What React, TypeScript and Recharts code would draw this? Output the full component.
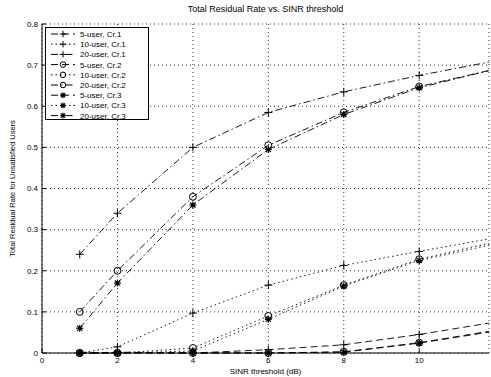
import { LineChart, Line, XAxis, YAxis, CartesianGrid, Label } from "recharts";

const thresholds = [1, 2, 4, 6, 8, 10, 12];

const user5Cr1 = [0, 0.002, 0, 0.008, 0.02, 0.045, 0.075];
const user10Cr1 = [0, 0.015, 0.097, 0.165, 0.213, 0.247, 0.28];
const user20Cr1 = [0.24, 0.34, 0.5, 0.585, 0.635, 0.675, 0.71];
const user5Cr2 = [0, 0, 0, 0, 0.003, 0.025, 0.055];
const user10Cr2 = [0, 0, 0.012, 0.09, 0.165, 0.228, 0.27];
const user20Cr2 = [0.1, 0.2, 0.38, 0.505, 0.585, 0.648, 0.69];
const user5Cr3 = [0, 0, 0, 0, 0.002, 0.024, 0.053];
const user10Cr3 = [0, 0, 0.005, 0.082, 0.163, 0.225, 0.265];
const user20Cr3 = [0.06, 0.17, 0.36, 0.495, 0.58, 0.645, 0.69];

const xTicks = [0, 2, 4, 6, 8, 10];
const yTicks = [0, 0.1, 0.2, 0.3, 0.4, 0.5, 0.6, 0.7, 0.8];

type Marker = "plus" | "circle" | "star";

const series: { key: string; name: string; values: number[]; dash: string; marker: Marker }[] = [
  { key: "u5c1", name: "5-user, Cr.1", values: user5Cr1, dash: "7 4", marker: "plus" },
  { key: "u10c1", name: "10-user, Cr.1", values: user10Cr1, dash: "1.5 3", marker: "plus" },
  { key: "u20c1", name: "20-user, Cr.1", values: user20Cr1, dash: "7 3 1.5 3", marker: "plus" },
  { key: "u5c2", name: "5-user, Cr.2", values: user5Cr2, dash: "7 4", marker: "circle" },
  { key: "u10c2", name: "10-user, Cr.2", values: user10Cr2, dash: "1.5 3", marker: "circle" },
  { key: "u20c2", name: "20-user, Cr.2", values: user20Cr2, dash: "7 3 1.5 3", marker: "circle" },
  { key: "u5c3", name: "5-user, Cr.3", values: user5Cr3, dash: "7 4", marker: "star" },
  { key: "u10c3", name: "10-user, Cr.3", values: user10Cr3, dash: "1.5 3", marker: "star" },
  { key: "u20c3", name: "20-user, Cr.3", values: user20Cr3, dash: "7 3 1.5 3", marker: "star" },
];

const data = thresholds.map((t, i) => {
  const row: Record<string, number> = { t };
  series.forEach((s) => (row[s.key] = s.values[i]));
  return row;
});

function MarkerShape({ kind, cx, cy, s = 1 }: { kind: Marker; cx: number; cy: number; s?: number }) {
  if (kind === "plus") {
    return (
      <g stroke="#000" strokeWidth={1}>
        <line x1={cx - 4 * s} y1={cy} x2={cx + 4 * s} y2={cy} />
        <line x1={cx} y1={cy - 4 * s} x2={cx} y2={cy + 4 * s} />
      </g>
    );
  }
  if (kind === "circle") {
    return <circle cx={cx} cy={cy} r={3.5 * s} fill="none" stroke="#000" strokeWidth={1} />;
  }
  return (
    <g stroke="#000" strokeWidth={1.2}>
      <line x1={cx - 3.5 * s} y1={cy} x2={cx + 3.5 * s} y2={cy} />
      <line x1={cx} y1={cy - 3.5 * s} x2={cx} y2={cy + 3.5 * s} />
      <line x1={cx - 2.6 * s} y1={cy - 2.6 * s} x2={cx + 2.6 * s} y2={cy + 2.6 * s} />
      <line x1={cx - 2.6 * s} y1={cy + 2.6 * s} x2={cx + 2.6 * s} y2={cy - 2.6 * s} />
      <circle cx={cx} cy={cy} r={1.8 * s} fill="#000" stroke="none" />
    </g>
  );
}

const makeDot = (kind: Marker) => (props: any) => {
  const { cx, cy, index } = props;
  if (cx == null || cy == null || thresholds[index] > 10) return <g key={`d-${index}`} />;
  return (
    <g key={`d-${index}`}>
      <MarkerShape kind={kind} cx={cx} cy={cy} />
    </g>
  );
};

const font = "Arial, 'Liberation Sans', sans-serif";

export default function App() {
  return (
    <div style={{ position: "relative", width: 491, height: 377, background: "#fff", fontFamily: font }}>
      <style>{"body{margin:0}"}</style>
      <div
        style={{
          position: "absolute",
          top: 4,
          left: 42,
          width: 447,
          textAlign: "center",
          fontSize: 9,
          lineHeight: "11px",
          color: "#000",
        }}
      >
        Total Residual Rate vs. SINR threshold
      </div>
      <div
        style={{
          position: "absolute",
          top: 367,
          left: 42,
          width: 447,
          textAlign: "center",
          fontSize: 8,
          lineHeight: "9px",
          color: "#000",
        }}
      >
        SINR threshold (dB)
      </div>
      <LineChart width={491} height={377} data={data} margin={{ top: 24, right: 2, bottom: 10, left: 10 }}>
        <CartesianGrid stroke="#000" strokeDasharray="1 3" strokeWidth={0.8} />
        <XAxis
          dataKey="t"
          type="number"
          domain={[0, 11.85]}
          allowDataOverflow
          ticks={xTicks}
          stroke="#000"
          tickSize={-4}
          tick={{ fontSize: 8, fill: "#000", dy: 6 }}
          height={14}
        />
        <XAxis xAxisId="top" orientation="top" type="number" domain={[0, 11.85]} ticks={xTicks} stroke="#000" tick={false} tickSize={-4} height={0} />
        <YAxis
          type="number"
          domain={[0, 0.8]}
          ticks={yTicks}
          stroke="#000"
          tickSize={-4}
          tick={{ fontSize: 8, fill: "#000", dx: -6 }}
          tickFormatter={(v: number) => (v === 0 ? "0" : String(Number(v.toFixed(1))))}
          width={32}
        >
          <Label
            value="Total Residual Rate for Unsatisfied Users"
            angle={-90}
            position="insideLeft"
            offset={2}
            style={{ fontSize: 7.5, fill: "#000", textAnchor: "middle" }}
          />
        </YAxis>
        <YAxis yAxisId="right" orientation="right" domain={[0, 0.8]} ticks={yTicks} stroke="#000" tick={false} tickSize={-4} width={0} />
        {series.map((s) => (
          <Line
            key={s.key}
            dataKey={s.key}
            name={s.name}
            type="linear"
            stroke="#000"
            strokeWidth={0.9}
            strokeDasharray={s.dash}
            dot={makeDot(s.marker)}
            activeDot={false}
            isAnimationActive={false}
          />
        ))}
      </LineChart>
      <div
        style={{
          position: "absolute",
          left: 45,
          top: 27,
          width: 104,
          height: 93,
          border: "1px solid #000",
          background: "#fff",
          boxSizing: "border-box",
        }}
      >
        <svg width={104} height={93} style={{ display: "block" }}>
          {series.map((s, i) => {
            const y = 6 + i * 10.2;
            return (
              <g key={s.key}>
                <line x1={5} y1={y} x2={29} y2={y} stroke="#000" strokeWidth={1} strokeDasharray={s.dash} />
                <MarkerShape kind={s.marker} cx={17} cy={y} s={0.8} />
                <text x={34} y={y + 3} fontSize={8} fontFamily={font} fill="#000">
                  {s.name}
                </text>
              </g>
            );
          })}
        </svg>
      </div>
    </div>
  );
}
